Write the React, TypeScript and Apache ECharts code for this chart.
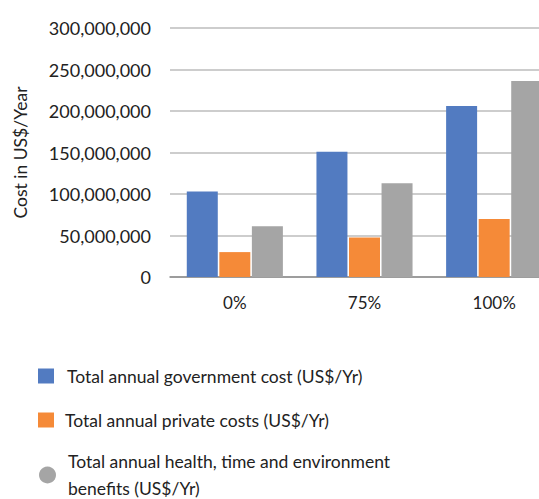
import React, { useEffect, useRef } from "react";
import * as echarts from "echarts";

const categories = ["0%", "75%", "100%"];
const seriesNames = [
  "Total annual government cost (US$/Yr)",
  "Total annual private costs (US$/Yr)",
  "Total annual health, time and environment benefits (US$/Yr)",
];
const govCost = [103000000, 151000000, 206000000];
const privateCost = [30000000, 47500000, 70000000];
const benefits = [61000000, 113000000, 236000000];
const colors = ["#527BC1", "#F58A38", "#A5A5A5"];

const FONT = "Lato";

export default function App() {
  const ref = useRef<HTMLDivElement>(null);
  useEffect(() => {
    if (!ref.current) return;
    const chart = echarts.init(ref.current, undefined, { renderer: "svg" });
    const values = [govCost, privateCost, benefits];
    const legendTops = [366, 410, 448];
    const legendLefts = [38, 38, 39];
    const icons = ["rect", "rect", "circle"];
    chart.setOption({
      animation: false,
      textStyle: { fontFamily: FONT },
      grid: { left: 170, top: 28, height: 249, width: 389, outerBoundsMode: "none" },
      xAxis: {
        type: "category",
        data: categories,
        axisLine: { lineStyle: { color: "#8c8c8c", width: 1.5 } },
        axisTick: { show: false },
        axisLabel: { color: "#222", fontSize: 17, fontFamily: FONT, margin: 17 },
      },
      yAxis: {
        type: "value",
        min: 0,
        max: 300000000,
        interval: 50000000,
        name: "Cost in US$/Year",
        nameLocation: "middle",
        nameRotate: 90,
        nameGap: 141,
        nameTextStyle: { color: "#222", fontSize: 17.5, fontFamily: FONT },
        axisLine: { show: false },
        axisTick: { show: false },
        splitLine: { lineStyle: { color: "#bdbdbd", width: 1.5 } },
        axisLabel: {
          color: "#222",
          fontSize: 18,
          fontFamily: FONT,
          margin: 19,
          padding: [0, 0, 7, 0],
          formatter: (v: number) => v.toLocaleString("en-US"),
        },
      },
      legend: seriesNames.map((n, i) => ({
        data: [{ name: n, icon: icons[i] }],
        orient: "vertical",
        left: legendLefts[i],
        top: legendTops[i],
        padding: 0,
        itemWidth: i === 2 ? 17 : 16,
        itemHeight: i === 2 ? 17 : 15,
        selectedMode: false,
        formatter: (name: string) =>
          name.startsWith("Total annual health")
            ? "Total annual health, time and environment\nbenefits (US$/Yr)"
            : name,
        textStyle: {
          color: "#222",
          fontSize: 17.5,
          fontFamily: FONT,
          lineHeight: i === 2 ? 27 : 20,
          padding: [0, 0, 0, i === 0 ? 8 : i === 1 ? 6 : 7],
        },
      })),
      series: seriesNames.map((n, i) => ({
        name: n,
        type: "bar",
        data: values[i],
        barWidth: 31,
        barGap: "5%",
        itemStyle: { color: colors[i] },
      })),
    });
    return () => chart.dispose();
  }, []);
  return <div ref={ref} style={{ width: 539, height: 499, position: "absolute", left: 0, top: 0 }} />;
}
